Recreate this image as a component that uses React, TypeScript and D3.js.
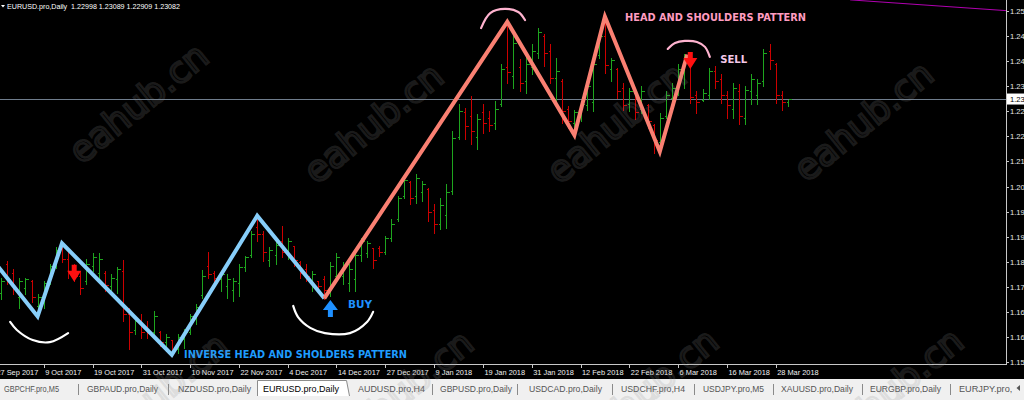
import React from 'react';
import * as d3 from 'd3';

// ---------- DATA ----------
const barOpen = [
  1.1750, 1.1835, 1.1810, 1.1740, 1.1765, 1.1785, 1.1715, 1.1735, 1.1785, 1.1830,
  1.1880, 1.1850, 1.1815, 1.1800, 1.1785, 1.1830, 1.1810, 1.1810, 1.1770, 1.1790,
  1.1815, 1.1690, 1.1645, 1.1670, 1.1650, 1.1640, 1.1640, 1.1610, 1.1615, 1.1590,
  1.1620, 1.1640, 1.1680, 1.1745, 1.1830, 1.1810, 1.1790, 1.1770, 1.1760, 1.1780,
  1.1825, 1.1860, 1.1940, 1.1920, 1.1845, 1.1860, 1.1900, 1.1865, 1.1885, 1.1840,
  1.1820, 1.1780, 1.1785, 1.1790, 1.1760, 1.1800, 1.1800, 1.1780, 1.1790,
  1.1860, 1.1865, 1.1880, 1.1880, 1.1870, 1.1910, 1.1965, 1.2030, 1.2070, 1.2030,
  1.2040, 1.2050, 1.1990, 1.1950, 1.1975, 1.2045, 1.2200, 1.2270, 1.2260, 1.2200,
  1.2270, 1.2255, 1.2240, 1.2295, 1.2400, 1.2375, 1.2400, 1.2360, 1.2400, 1.2440,
  1.2490, 1.2445, 1.2370, 1.2360, 1.2280, 1.2240, 1.2260, 1.2290, 1.2300, 1.2435,
  1.2490, 1.2395, 1.2395, 1.2340, 1.2295, 1.2325, 1.2280, 1.2290, 1.2235, 1.2185,
  1.2260, 1.2310, 1.2330, 1.2390, 1.2410, 1.2320, 1.2305, 1.2320, 1.2390, 1.2365,
  1.2320, 1.2280, 1.2330, 1.2255, 1.2330, 1.2320, 1.2360, 1.2445, 1.2410, 1.2320,
  1.22998,
];
const barHigh = [
  1.1798, 1.1846, 1.1822, 1.1798, 1.1798, 1.1791, 1.1751, 1.1789, 1.1837, 1.1885,
  1.1894, 1.1880, 1.1837, 1.1818, 1.1851, 1.1870, 1.1870, 1.1818, 1.1808, 1.1829,
  1.1848, 1.1712, 1.1684, 1.1693, 1.1674, 1.1703, 1.1645, 1.1636, 1.1617, 1.1636,
  1.1650, 1.1693, 1.1722, 1.1820, 1.1872, 1.1818, 1.1813, 1.1808, 1.1798, 1.1837,
  1.1861, 1.1932, 1.1973, 1.1932, 1.1885, 1.1904, 1.1947, 1.1913, 1.1889, 1.1846,
  1.1837, 1.1818, 1.1789, 1.1803, 1.1842, 1.1870, 1.1842, 1.1837, 1.1870,
  1.1913, 1.1903, 1.1884, 1.1889, 1.1918, 1.1966, 1.2033, 1.2090, 1.2076, 1.2095,
  1.2076, 1.2057, 1.2009, 1.2028, 1.2066, 1.2219, 1.2296, 1.2286, 1.2320, 1.2267,
  1.2296, 1.2277, 1.2305, 1.2411, 1.2530, 1.2497, 1.2425, 1.2444, 1.2468, 1.2514,
  1.2497, 1.2468, 1.2430, 1.2368, 1.2291, 1.2281, 1.2305, 1.2363, 1.2430, 1.2502,
  1.2540, 1.2430, 1.2401, 1.2358, 1.2344, 1.2334, 1.2348, 1.2296, 1.2238, 1.2272,
  1.2334, 1.2358, 1.2411, 1.2439, 1.2420, 1.2334, 1.2339, 1.2401, 1.2406, 1.2382,
  1.2334, 1.2358, 1.2353, 1.2348, 1.2382, 1.2368, 1.2454, 1.2468, 1.2415, 1.2334,
  1.23089,
];
const barLow = [
  1.1736, 1.1779, 1.1751, 1.1712, 1.1751, 1.1727, 1.1684, 1.1712, 1.1779, 1.1827,
  1.1842, 1.1798, 1.1789, 1.1751, 1.1779, 1.1818, 1.1789, 1.1760, 1.1751, 1.1755,
  1.1674, 1.1593, 1.1636, 1.1626, 1.1626, 1.1626, 1.1602, 1.1597, 1.1574, 1.1583,
  1.1597, 1.1636, 1.1664, 1.1741, 1.1798, 1.1789, 1.1760, 1.1741, 1.1731, 1.1746,
  1.1818, 1.1856, 1.1904, 1.1846, 1.1832, 1.1837, 1.1856, 1.1851, 1.1832, 1.1798,
  1.1789, 1.1760, 1.1760, 1.1736, 1.1746, 1.1789, 1.1779, 1.1760, 1.1760,
  1.1846, 1.1856, 1.1827, 1.1860, 1.1865, 1.1903, 1.1961, 1.2028, 1.2009, 1.2013,
  1.2018, 1.1961, 1.1927, 1.1937, 1.1942, 1.2037, 1.2195, 1.2195, 1.2181, 1.2167,
  1.2214, 1.2219, 1.2224, 1.2291, 1.2358, 1.2344, 1.2334, 1.2329, 1.2382, 1.2430,
  1.2406, 1.2358, 1.2305, 1.2243, 1.2229, 1.2205, 1.2248, 1.2281, 1.2277, 1.2430,
  1.2387, 1.2363, 1.2315, 1.2281, 1.2277, 1.2253, 1.2272, 1.2229, 1.2157, 1.2157,
  1.2257, 1.2301, 1.2324, 1.2344, 1.2301, 1.2272, 1.2305, 1.2310, 1.2344, 1.2301,
  1.2257, 1.2257, 1.2238, 1.2238, 1.2296, 1.2296, 1.2348, 1.2396, 1.2301, 1.2281,
  1.22909,
];
const barClose = [
  1.1785, 1.1790, 1.1765, 1.1785, 1.1790, 1.1740, 1.1740, 1.1780, 1.1830, 1.1875,
  1.1850, 1.1810, 1.1800, 1.1765, 1.1835, 1.1855, 1.1850, 1.1775, 1.1795, 1.1820,
  1.1690, 1.1640, 1.1670, 1.1640, 1.1635, 1.1685, 1.1610, 1.1625, 1.1590, 1.1625,
  1.1640, 1.1685, 1.1710, 1.1800, 1.1805, 1.1795, 1.1805, 1.1790, 1.1785, 1.1825,
  1.1855, 1.1920, 1.1920, 1.1870, 1.1875, 1.1890, 1.1870, 1.1900, 1.1845, 1.1810,
  1.1800, 1.1805, 1.1770, 1.1760, 1.1830, 1.1855, 1.1830, 1.1820, 1.1860,
  1.1900, 1.1895, 1.1845, 1.1868, 1.1910, 1.1950, 1.2025, 1.2075, 1.2025, 1.2080,
  1.2065, 1.1985, 1.1950, 1.2005, 1.2040, 1.2195, 1.2275, 1.2230, 1.2215, 1.2250,
  1.2240, 1.2235, 1.2280, 1.2395, 1.2385, 1.2470, 1.2355, 1.2410, 1.2445, 1.2500,
  1.2440, 1.2370, 1.2390, 1.2275, 1.2245, 1.2270, 1.2295, 1.2345, 1.2410, 1.2490,
  1.2405, 1.2420, 1.2330, 1.2290, 1.2330, 1.2270, 1.2330, 1.2245, 1.2190, 1.2255,
  1.2320, 1.2340, 1.2395, 1.2420, 1.2315, 1.2300, 1.2325, 1.2390, 1.2360, 1.2320,
  1.2290, 1.2340, 1.2260, 1.2335, 1.2365, 1.2355, 1.2440, 1.2420, 1.2320, 1.2300,
  1.23082,
];

const dateLabels = [
  '27 Sep 2017', '9 Oct 2017', '19 Oct 2017', '31 Oct 2017', '10 Nov 2017', '22 Nov 2017',
  '4 Dec 2017', '14 Dec 2017', '27 Dec 2017', '9 Jan 2018', '19 Jan 2018', '31 Jan 2018',
  '12 Feb 2018', '22 Feb 2018', '6 Mar 2018', '16 Mar 2018', '28 Mar 2018',
];
const dateLabelBar = [-1, 7, 15, 23, 31, 39, 47, 55, 63, 71, 79, 87, 95, 103, 111, 119, 127];

const priceTicks = [
  1.1553, 1.1625, 1.1697, 1.1769, 1.1841, 1.1913, 1.1985, 1.2057,
  1.2129, 1.2201, 1.2273, 1.2345, 1.2417, 1.2489, 1.2561,
];

const headerText = 'EURUSD.pro,Daily  1.22998 1.23089 1.22909 1.23082';
const lastPrice = 1.23082;

const blueZigzag = [
  { i: -3, p: 1.1883 }, { i: 6, p: 1.1684 }, { i: 10, p: 1.1894 },
  { i: 28, p: 1.1574 }, { i: 42, p: 1.1973 }, { i: 53, p: 1.1736 },
];
const salmonZigzag = [
  { i: 53, p: 1.1736 }, { i: 83, p: 1.2530 }, { i: 94, p: 1.2205 },
  { i: 99, p: 1.2545 }, { i: 108, p: 1.2157 }, { i: 112.5, p: 1.2436 },
];
const trendLine = [{ i: 139.2, p: 1.2593 }, { i: 164.8, p: 1.2562 }];

const downArrows = [{ i: 12, p: 1.1832 }, { i: 113, p: 1.2443 }];
const upArrows = [{ i: 54, p: 1.1682 }];

const whiteArcs = [
  [{ i: 1.5, p: 1.1668 }, { i: 2.6, p: 1.1645 }, { i: 5.2, p: 1.1616 }, { i: 8.0, p: 1.1610 }, { i: 11.0, p: 1.1636 }],
  [{ i: 47.9, p: 1.1714 }, { i: 48.7, p: 1.1682 }, { i: 50.7, p: 1.1651 }, { i: 53.1, p: 1.1636 },
   { i: 57.2, p: 1.1636 }, { i: 60.0, p: 1.1668 }, { i: 61.0, p: 1.1697 }],
];
const pinkArcs = [
  [{ i: 78.7, p: 1.2512 }, { i: 80.2, p: 1.2555 }, { i: 82.6, p: 1.2567 }, { i: 84.8, p: 1.2558 }, { i: 85.9, p: 1.2535 }],
  [{ i: 109.3, p: 1.2452 }, { i: 110.5, p: 1.2469 }, { i: 112.1, p: 1.2475 }, { i: 114.1, p: 1.2472 },
   { i: 115.4, p: 1.2458 }, { i: 116.2, p: 1.2429 }],
];

const labels = [
  { text: 'HEAD AND SHOULDERS PATTERN', i: 102.3, p: 1.2532, color: '#ff9cc0', len: 181 },
  { text: 'SELL', i: 117.9, p: 1.2412, color: '#f4c8e8', len: 27 },
  { text: 'BUY', i: 56.9, p: 1.1708, color: '#1e90ff', len: 24 },
  { text: 'INVERSE HEAD AND SHOLDERS PATTERN', i: 30.0, p: 1.1564, color: '#1e9cff', len: 223 },
];

const tabNames = [
  'GBPCHF.pro,M5', 'GBPAUD.pro,Daily', 'NZDUSD.pro,Daily', 'EURUSD.pro,Daily', 'AUDUSD.pro,H4',
  'GBPUSD.pro,Daily', 'USDCAD.pro,Daily', 'USDCHF.pro,H4', 'USDJPY.pro,M5', 'XAUUSD.pro,Daily',
  'EURGBP.pro,Daily', 'EURJPY.pro,M5',
];
const activeTab = 'EURUSD.pro,Daily';
const watermarkText = 'eahub.cn';

// ---------- LAYOUT ----------
const W = 1024;
const H = 400;
const plotRight = 1006;
const plotBottom = 364;
const tabLayout = [
  [4, 55], [87, 71], [178, 73], [263, 76], [358, 67], [440, 72],
  [529, 73], [621, 64], [703, 61], [781, 72], [870, 71], [959, 66],
];
const tabSeparators = [78, 168, 432, 517, 612, 694, 773, 862, 950];
const watermarkCenters = [
  [140, 105], [375, 125], [618, 125], [865, 123],
  [160, 395], [405, 392], [650, 390], [895, 390],
];

type P = { i: number; p: number };

export default function App() {
  const x = d3.scaleLinear().domain([0, 129]).range([1, 1 + 6.1 * 129]);
  const y = d3.scaleLinear().domain([1.1553, 1.2561]).range([362, 11]);
  const px = (i: number) => Math.round(x(i)) + 0.5;
  const py = (v: number) => Math.round(y(v)) + 0.5;

  const zz = d3.line<P>().x((d) => x(d.i)).y((d) => y(d.p));
  const arc = d3.line<P>().x((d) => x(d.i)).y((d) => y(d.p)).curve(d3.curveCatmullRom.alpha(0.5));

  const bars = barOpen.map((o, i) => ({ i, o, h: barHigh[i], l: barLow[i], c: barClose[i] }));
  const upColor = '#1ea51e';
  const downColor = '#cc0000';

  const uiFont = '"Liberation Sans", Arial, sans-serif';
  const boldFont = '"DejaVu Sans", Verdana, sans-serif';

  return (
    <div style={{ position: 'absolute', left: 0, top: 0, width: W, height: H, overflow: 'hidden', background: '#000' }}>
      <svg width={W} height={H} style={{ display: 'block' }}>
        <defs>
          <clipPath id="plot">
            <rect x={0} y={0} width={plotRight} height={plotBottom} />
          </clipPath>
          <clipPath id="lasttab">
            <rect x={0} y={378} width={1012} height={22} />
          </clipPath>
        </defs>
        <rect x={0} y={0} width={W} height={H} fill="#000" />

        <g clipPath="url(#plot)">
          {/* bid line */}
          <line x1={0} x2={plotRight} y1={py(lastPrice)} y2={py(lastPrice)} stroke="#6f7d8c" strokeWidth={1} />

          {/* OHLC bars */}
          <g shapeRendering="crispEdges">
            {bars.map((b) => {
              const col = b.c >= b.o ? upColor : downColor;
              const cx = px(b.i);
              return (
                <g key={b.i} stroke={col} strokeWidth={1}>
                  <line x1={cx} x2={cx} y1={py(b.h)} y2={py(b.l) + 1} />
                  <line x1={cx - 2} x2={cx} y1={py(b.o)} y2={py(b.o)} />
                  <line x1={cx} x2={cx + 3} y1={py(b.c)} y2={py(b.c)} />
                </g>
              );
            })}
          </g>

          {/* zigzags */}
          <path d={zz(blueZigzag) || ''} fill="none" stroke="#87cefa" strokeWidth={4} strokeLinejoin="miter" />
          <path d={zz(salmonZigzag) || ''} fill="none" stroke="#fa8072" strokeWidth={4} strokeLinejoin="miter" />
          <path d={zz(trendLine) || ''} fill="none" stroke="#b000b0" strokeWidth={1} />

          {/* hand drawn arcs */}
          {whiteArcs.map((a, k) => (
            <path key={'w' + k} d={arc(a) || ''} fill="none" stroke="#ffffff" strokeWidth={2.2} strokeLinecap="round" />
          ))}
          {pinkArcs.map((a, k) => (
            <path key={'p' + k} d={arc(a) || ''} fill="none" stroke="#ffb3cf" strokeWidth={2.2} strokeLinecap="round" />
          ))}

          {/* signal arrows */}
          {downArrows.map((a, k) => (
            <path
              key={'d' + k}
              transform={`translate(${x(a.i)},${y(a.p)})`}
              d="M-2.5,0 L2.5,0 L2.5,6 L7,6 L0,17 L-7,6 L-2.5,6 Z"
              fill="#ff1010"
            />
          ))}
          {upArrows.map((a, k) => (
            <path
              key={'u' + k}
              transform={`translate(${x(a.i)},${y(a.p)})`}
              d="M-2.5,0 L2.5,0 L2.5,-7 L7.5,-7 L0,-17 L-7.5,-7 L-2.5,-7 Z"
              fill="#1e90ff"
            />
          ))}

          {/* annotation labels */}
          {labels.map((l) => (
            <text
              key={l.text}
              x={x(l.i)}
              y={y(l.p)}
              fill={l.color}
              fontFamily={boldFont}
              fontWeight="bold"
              fontSize={10}
              textLength={l.len}
              lengthAdjust="spacingAndGlyphs"
            >
              {l.text}
            </text>
          ))}
        </g>

        {/* header */}
        <path d="M1,5 L5,5 L3,7.5 Z" fill="#fff" />
        <text x={7} y={9} fill="#fff" fontFamily={uiFont} fontSize={8} style={{ whiteSpace: 'pre' }} textLength={173} lengthAdjust="spacingAndGlyphs">
          {headerText}
        </text>

        {/* axes */}
        <g shapeRendering="crispEdges" stroke="#c8c8c8">
          <line x1={0} x2={plotRight + 0.5} y1={plotBottom + 0.5} y2={plotBottom + 0.5} />
          <line x1={plotRight + 0.5} x2={plotRight + 0.5} y1={0} y2={plotBottom + 1} />
          {priceTicks.map((t) => (
            <line key={t} x1={plotRight} x2={plotRight + 3} y1={py(t)} y2={py(t)} />
          ))}
          {dateLabelBar.map((b) => (
            <line key={b} x1={px(b)} x2={px(b)} y1={plotBottom} y2={plotBottom + 4} />
          ))}
        </g>
        {priceTicks.map((t) => (
          <text key={t} x={1010} y={y(t) + 3} fill="#e8e8e8" fontFamily={uiFont} fontSize={7.6}>
            {t.toFixed(4)}
          </text>
        ))}
        <rect x={1007} y={y(lastPrice) - 5.5} width={20} height={11} fill="#ffffff" />
        <text x={1010} y={y(lastPrice) + 3} fill="#000" fontFamily={uiFont} fontSize={7.6}>
          {lastPrice.toFixed(5)}
        </text>
        {dateLabels.map((d, k) => (
          <text key={d} x={x(dateLabelBar[k]) + 1.5} y={374.5} fill="#f0f0f0" fontFamily={uiFont} fontSize={7.4}>
            {d}
          </text>
        ))}

        {/* tab strip */}
        <rect x={0} y={379} width={W} height={21} fill="#f0f0f0" />
        {tabSeparators.map((s) => (
          <line key={s} x1={s + 0.5} x2={s + 0.5} y1={384} y2={395} stroke="#8a8a8a" />
        ))}
        <path d="M257.5,396 L257.5,380.5 L346.5,380.5 L349.5,396" fill="#ffffff" stroke="#8c8c8c" />
        <g clipPath="url(#lasttab)">
          {tabNames.map((t, k) => (
            <text
              key={t}
              x={tabLayout[k][0]}
              y={392}
              fill={t === activeTab ? '#000' : '#555'}
              fontFamily={uiFont}
              fontSize={9}
              textLength={tabLayout[k][1]}
              lengthAdjust="spacingAndGlyphs"
            >
              {t}
            </text>
          ))}
        </g>
        <path d="M1020,385 L1020,391 L1016.5,388 Z" fill="#555" />

        {/* watermarks */}
        {watermarkCenters.map(([cx, cy], k) => (
          <text
            key={k}
            x={cx}
            y={cy}
            transform={`rotate(-39 ${cx} ${cy})`}
            textAnchor="middle"
            dominantBaseline="middle"
            fontFamily={boldFont}
            fontSize={36}
            fill="none"
            stroke="rgba(140,140,140,0.2)"
            strokeWidth={2.5}
          >
            {watermarkText}
          </text>
        ))}
      </svg>
    </div>
  );
}
